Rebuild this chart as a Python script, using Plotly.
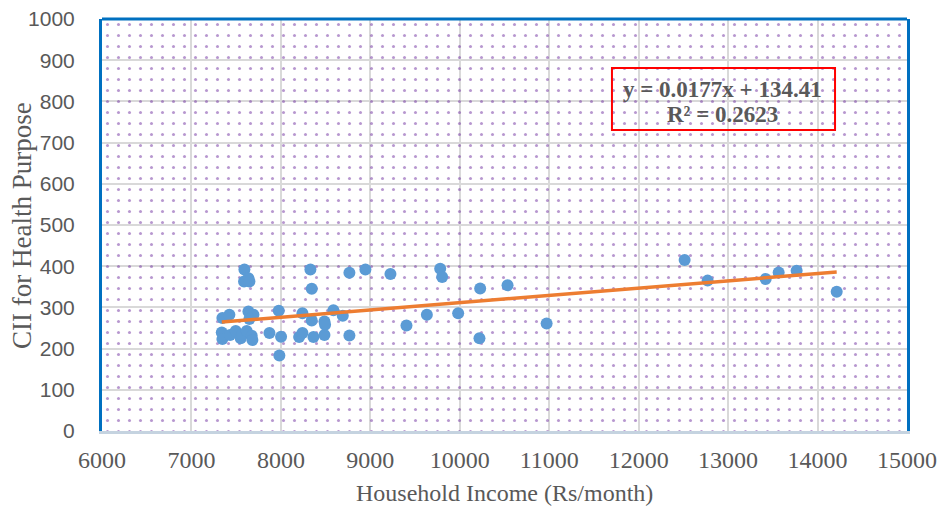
import plotly.graph_objects as go

# Data (Household income Rs/month vs CII for health purpose)
income = [7592, 7637, 7588, 7648, 8330, 8345, 8766, 8945, 9225, 9781, 9803,
          7346, 7424, 7637, 7693, 7648, 7976, 8241, 8345, 8487, 8494, 8587, 8692, 9632, 9982, 9404,
          7339, 7346, 7432, 7495, 7551, 7565, 7618, 7674, 7681, 7872, 8002, 8204, 8241, 8364, 8487, 8766, 7983,
          10228, 10534, 10220, 10971, 12514, 12771, 13420, 13565, 13766, 14214]
cii = [392, 371, 363, 363, 392, 345, 384, 392, 381, 394, 374,
       274, 282, 290, 282, 272, 292, 286, 268, 266, 258, 293, 280, 282, 286, 256,
       239, 223, 233, 243, 225, 233, 243, 231, 221, 238, 229, 228, 238, 228, 233, 232, 183,
       346, 354, 225, 261, 415, 365, 369, 385, 389, 338]

slope = 0.0177
intercept = 134.41
r2 = 0.2623

x_range = [6000, 15000]
y_range = [0, 1000]
x_ticks = [6000, 7000, 8000, 9000, 10000, 11000, 12000, 13000, 14000, 15000]
x_tick_labels = [str(v) for v in x_ticks]
y_ticks = [0, 100, 200, 300, 400, 500, 600, 700, 800, 900, 1000]
y_tick_labels = [str(v) for v in y_ticks]

GREY = "#595959"

fig = go.Figure()

# dotted background of the plot area
fig.add_trace(go.Scatter(
    x=[x_range[0], x_range[1], x_range[1], x_range[0], x_range[0]],
    y=[y_range[0], y_range[0], y_range[1], y_range[1], y_range[0]],
    mode="lines", line=dict(width=0), fill="toself",
    fillcolor="rgba(0,0,0,0)",
    fillpattern=dict(shape=".", fgcolor="#7030a0", bgcolor="rgba(0,0,0,0)",
                     size=11, solidity=0.06, fillmode="overlay"),
    hoverinfo="skip", showlegend=False))

# scatter points
fig.add_trace(go.Scatter(
    x=income, y=cii, mode="markers",
    marker=dict(size=12, color="#5b9bd5", line=dict(width=0)),
    showlegend=False))

# linear trendline from fitted equation
xmin, xmax = min(income), max(income)
fig.add_trace(go.Scatter(
    x=[xmin, xmax], y=[slope * xmin + intercept, slope * xmax + intercept],
    mode="lines", line=dict(color="#ed7d31", width=3.5), showlegend=False))

# equation box
eq_font = dict(family="Liberation Serif", size=23, color=GREY, weight="bold")
fig.add_shape(type="rect", xref="paper", yref="paper",
              x0=0.6335, x1=0.9106, y0=0.7306, y1=0.881,
              line=dict(color="#ff0000", width=2), fillcolor="rgba(0,0,0,0)")
fig.add_annotation(xref="paper", yref="paper", x=0.7714, y=0.830,
                   xanchor="center", yanchor="middle", showarrow=False,
                   text=f"y = {slope}x + {intercept}", font=eq_font)
fig.add_annotation(xref="paper", yref="paper", x=0.7714, y=0.769,
                   xanchor="center", yanchor="middle", showarrow=False,
                   text=f"R² = {r2}", font=eq_font)

# axis titles
fig.add_annotation(xref="paper", yref="paper", x=0.5, y=-0.1505,
                   xanchor="center", yanchor="middle", showarrow=False,
                   text="Household Income (Rs/month)",
                   font=dict(family="Liberation Serif", size=24, color=GREY))
fig.add_annotation(xref="paper", yref="paper", x=-0.0994, y=0.5,
                   xanchor="center", yanchor="middle", showarrow=False,
                   textangle=-90, text="CII for Health Purpose",
                   font=dict(family="Liberation Serif", size=27, color=GREY))

# top border
fig.add_shape(type="line", xref="paper", yref="paper", x0=0, x1=1, y0=1, y1=1,
              line=dict(color="#0070c0", width=3))

fig.update_layout(
    width=938, height=508,
    margin=dict(l=102, r=31, t=19, b=77),
    paper_bgcolor="white", plot_bgcolor="white",
    xaxis=dict(range=x_range, tickvals=x_ticks, ticktext=x_tick_labels, showgrid=True,
               gridcolor="#d9d9d9", gridwidth=1.5, zeroline=False, automargin=False,
               showline=True, linecolor="#c5d3e0", linewidth=3,
               ticks="", ticklabelstandoff=5,
               tickfont=dict(family="Liberation Serif", size=24, color=GREY)),
    yaxis=dict(range=y_range, tickvals=y_ticks, ticktext=y_tick_labels, showgrid=True,
               gridcolor="#d9d9d9", gridwidth=1.5, zeroline=False, automargin=False,
               showline=True, linecolor="#0070c0", linewidth=3, mirror=True,
               ticks="", ticklabelstandoff=20,
               tickfont=dict(family="Liberation Sans", size=21, color=GREY)),
)

fig.write_html("out.html", config={"displayModeBar": False},
               post_script="document.body.style.margin='0';document.body.style.overflow='hidden';")
